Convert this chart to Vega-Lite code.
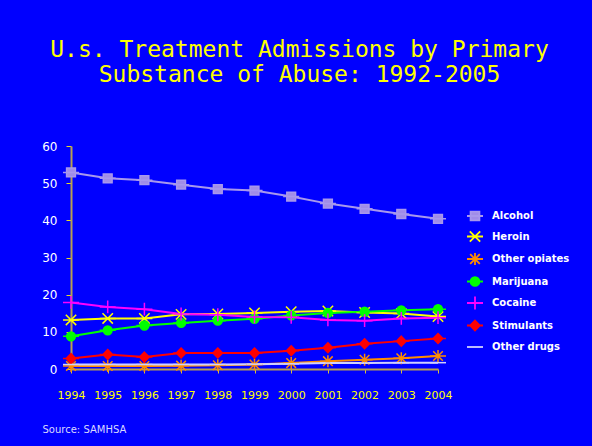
{
  "$schema": "https://vega.github.io/schema/vega-lite/v6.json",
  "width": 367,
  "height": 223,
  "autosize": {"type": "none"},
  "padding": {"left": 71, "top": 146, "right": 154, "bottom": 77},
  "background": "#0000FF",
  "title": {
    "text": ["U.s. Treatment Admissions by Primary", "Substance of Abuse: 1992-2005"],
    "font": "DejaVu Sans Mono",
    "fontSize": 23,
    "fontWeight": "normal",
    "color": "#FFFF00",
    "lineHeight": 25,
    "anchor": "middle",
    "frame": "group",
    "dx": 45,
    "offset": 53
  },
  "config": {
    "view": {"stroke": null},
    "legend": {
      "padding": 0,
      "title": null,
      "orient": "none",
      "legendX": 395,
      "legendY": 61,
      "symbolSize": 256,
      "symbolStrokeWidth": 1.8,
      "labelOffset": 8,
      "rowPadding": 3.5,
      "labelFont": "DejaVu Sans",
      "labelFontSize": 10,
      "labelFontWeight": "bold",
      "labelColor": "#FFFFFF"
    }
  },
  "data": {
    "values": [
      {"year": 1994, "substance": "Alcohol", "pct": 52.9},
      {"year": 1995, "substance": "Alcohol", "pct": 51.3},
      {"year": 1996, "substance": "Alcohol", "pct": 50.8},
      {"year": 1997, "substance": "Alcohol", "pct": 49.6},
      {"year": 1998, "substance": "Alcohol", "pct": 48.4},
      {"year": 1999, "substance": "Alcohol", "pct": 48.0},
      {"year": 2000, "substance": "Alcohol", "pct": 46.4},
      {"year": 2001, "substance": "Alcohol", "pct": 44.5},
      {"year": 2002, "substance": "Alcohol", "pct": 43.1},
      {"year": 2003, "substance": "Alcohol", "pct": 41.7},
      {"year": 2004, "substance": "Alcohol", "pct": 40.4},
      {"year": 1994, "substance": "Heroin", "pct": 13.2},
      {"year": 1995, "substance": "Heroin", "pct": 13.6},
      {"year": 1996, "substance": "Heroin", "pct": 13.6},
      {"year": 1997, "substance": "Heroin", "pct": 14.7},
      {"year": 1998, "substance": "Heroin", "pct": 14.8},
      {"year": 1999, "substance": "Heroin", "pct": 15.1},
      {"year": 2000, "substance": "Heroin", "pct": 15.4},
      {"year": 2001, "substance": "Heroin", "pct": 15.6},
      {"year": 2002, "substance": "Heroin", "pct": 15.2},
      {"year": 2003, "substance": "Heroin", "pct": 14.9},
      {"year": 2004, "substance": "Heroin", "pct": 14.1},
      {"year": 1994, "substance": "Other opiates", "pct": 0.8},
      {"year": 1995, "substance": "Other opiates", "pct": 0.8},
      {"year": 1996, "substance": "Other opiates", "pct": 0.8},
      {"year": 1997, "substance": "Other opiates", "pct": 0.9},
      {"year": 1998, "substance": "Other opiates", "pct": 1.0},
      {"year": 1999, "substance": "Other opiates", "pct": 1.2},
      {"year": 2000, "substance": "Other opiates", "pct": 1.6},
      {"year": 2001, "substance": "Other opiates", "pct": 2.1},
      {"year": 2002, "substance": "Other opiates", "pct": 2.5},
      {"year": 2003, "substance": "Other opiates", "pct": 2.9},
      {"year": 2004, "substance": "Other opiates", "pct": 3.5},
      {"year": 1994, "substance": "Marijuana", "pct": 8.8},
      {"year": 1995, "substance": "Marijuana", "pct": 10.4},
      {"year": 1996, "substance": "Marijuana", "pct": 11.7},
      {"year": 1997, "substance": "Marijuana", "pct": 12.4},
      {"year": 1998, "substance": "Marijuana", "pct": 13.0},
      {"year": 1999, "substance": "Marijuana", "pct": 13.5},
      {"year": 2000, "substance": "Marijuana", "pct": 14.4},
      {"year": 2001, "substance": "Marijuana", "pct": 15.1},
      {"year": 2002, "substance": "Marijuana", "pct": 15.4},
      {"year": 2003, "substance": "Marijuana", "pct": 15.8},
      {"year": 2004, "substance": "Marijuana", "pct": 16.1},
      {"year": 1994, "substance": "Cocaine", "pct": 17.9},
      {"year": 1995, "substance": "Cocaine", "pct": 16.7},
      {"year": 1996, "substance": "Cocaine", "pct": 16.1},
      {"year": 1997, "substance": "Cocaine", "pct": 14.8},
      {"year": 1998, "substance": "Cocaine", "pct": 14.6},
      {"year": 1999, "substance": "Cocaine", "pct": 14.0},
      {"year": 2000, "substance": "Cocaine", "pct": 13.9},
      {"year": 2001, "substance": "Cocaine", "pct": 13.2},
      {"year": 2002, "substance": "Cocaine", "pct": 13.0},
      {"year": 2003, "substance": "Cocaine", "pct": 13.6},
      {"year": 2004, "substance": "Cocaine", "pct": 13.8},
      {"year": 1994, "substance": "Stimulants", "pct": 2.8},
      {"year": 1995, "substance": "Stimulants", "pct": 3.9},
      {"year": 1996, "substance": "Stimulants", "pct": 3.2},
      {"year": 1997, "substance": "Stimulants", "pct": 4.3},
      {"year": 1998, "substance": "Stimulants", "pct": 4.3},
      {"year": 1999, "substance": "Stimulants", "pct": 4.3},
      {"year": 2000, "substance": "Stimulants", "pct": 4.9},
      {"year": 2001, "substance": "Stimulants", "pct": 5.7},
      {"year": 2002, "substance": "Stimulants", "pct": 6.8},
      {"year": 2003, "substance": "Stimulants", "pct": 7.5},
      {"year": 2004, "substance": "Stimulants", "pct": 8.2},
      {"year": 1994, "substance": "Other drugs", "pct": 1.2},
      {"year": 1995, "substance": "Other drugs", "pct": 1.2},
      {"year": 1996, "substance": "Other drugs", "pct": 1.2},
      {"year": 1997, "substance": "Other drugs", "pct": 1.2},
      {"year": 1998, "substance": "Other drugs", "pct": 1.2},
      {"year": 1999, "substance": "Other drugs", "pct": 1.3},
      {"year": 2000, "substance": "Other drugs", "pct": 1.4},
      {"year": 2001, "substance": "Other drugs", "pct": 1.6},
      {"year": 2002, "substance": "Other drugs", "pct": 1.6},
      {"year": 2003, "substance": "Other drugs", "pct": 1.7},
      {"year": 2004, "substance": "Other drugs", "pct": 1.7}
    ]
  },
  "encoding": {
    "x": {
      "field": "year",
      "type": "ordinal",
      "scale": {"type": "point", "padding": 0},
      "axis": {
        "title": "Source: SAMHSA",
        "titleFont": "DejaVu Sans",
        "titleFontSize": 10,
        "titleFontWeight": "normal",
        "titleColor": "#D8D8FF",
        "titleAnchor": "start",
        "titleAlign": "left",
        "titleBaseline": "alphabetic",
        "titleX": -29,
        "titleY": 63,
        "labelAngle": 0,
        "labelFont": "DejaVu Sans",
        "labelFontSize": 11,
        "labelColor": "#FFFF00",
        "labelPadding": 16,
        "tickSize": 4,
        "tickColor": "#D8C040",
        "domainColor": "#B8A050",
        "domainWidth": 2
      }
    },
    "y": {
      "field": "pct",
      "type": "quantitative",
      "scale": {"domain": [0, 60], "nice": false},
      "axis": {
        "title": null,
        "values": [0, 10, 20, 30, 40, 50, 60],
        "grid": false,
        "labelFont": "DejaVu Sans",
        "labelFontSize": 12,
        "labelColor": "#FFFFFF",
        "labelPadding": 9,
        "tickSize": 5,
        "tickColor": "#E8E020",
        "domainColor": "#B8A050",
        "domainWidth": 2
      }
    }
  },
  "layer": [
    {
      "mark": {"type": "line", "strokeWidth": 2},
      "encoding": {
        "stroke": {
          "field": "substance",
          "type": "nominal",
          "scale": {
            "domain": ["Alcohol", "Heroin", "Other opiates", "Marijuana", "Cocaine", "Stimulants", "Other drugs"],
            "range": ["#A898EC", "#FFFF00", "#FF8C00", "#00FF00", "#FF00FF", "#FF0000", "#D0D0FF"]
          }
        }
      }
    },
    {
      "mark": {"type": "point", "size": 256, "strokeWidth": 1.5, "opacity": 1},
      "encoding": {
        "shape": {
          "field": "substance",
          "type": "nominal",
          "scale": {
            "domain": ["Alcohol", "Heroin", "Other opiates", "Marijuana", "Cocaine", "Stimulants", "Other drugs"],
            "range": [
              "M-1,0L1,0M-0.55,-0.55H0.55V0.55H-0.55Z",
              "M-1,0L1,0M-0.65,-0.65L0.65,0.65M-0.65,0.65L0.65,-0.65",
              "M-1,0L1,0M-0.6,-0.6L0.6,0.6M-0.6,0.6L0.6,-0.6M0,-0.75L0,0.75",
              "M-1,0L1,0M-0.55,0A0.55,0.55,0,1,1,0.55,0A0.55,0.55,0,1,1,-0.55,0Z",
              "M-1,0L1,0M0,-0.8L0,0.8",
              "M-1,0L1,0M0,-0.62L0.6,0L0,0.62L-0.6,0Z",
              "M-1,0L1,0"
            ]
          }
        },
        "fill": {
          "field": "substance",
          "type": "nominal",
          "scale": {
            "domain": ["Alcohol", "Heroin", "Other opiates", "Marijuana", "Cocaine", "Stimulants", "Other drugs"],
            "range": ["#A08CE8", "#FFFF00", "#FF8C00", "#00FF00", "#FF00FF", "#FF0000", "#D0D0FF"]
          }
        },
        "stroke": {
          "field": "substance",
          "type": "nominal"
        }
      }
    }
  ]
}
